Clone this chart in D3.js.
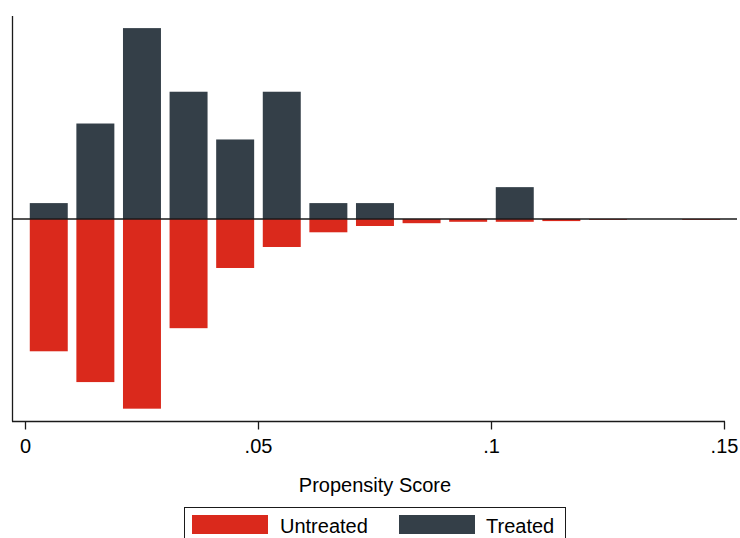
<!DOCTYPE html>
<html>
<head>
<meta charset="utf-8">
<script src="https://cdn.jsdelivr.net/npm/d3@7"></script>
<style>
  html, body { margin: 0; padding: 0; background: #fff; }
  svg { display: block; font-family: "Liberation Sans", Arial, Helvetica, sans-serif; }
</style>
</head>
<body>
<svg id="chart" width="740" height="538"></svg>
<script>
// Bin centers (propensity score)
const binCenters = [0.0051, 0.0151, 0.0251, 0.0351, 0.0451, 0.0551, 0.0651, 0.0751, 0.0851, 0.0951, 0.1051, 0.1151, 0.1251, 0.1351, 0.1451];
// Fraction of treated observations per bin (drawn upward)
const treated = [0.0227, 0.1364, 0.2727, 0.1818, 0.1136, 0.1818, 0.0227, 0.0227, 0, 0, 0.0455, 0, 0, 0, 0];
// Fraction of untreated observations per bin (drawn downward)
const untreated = [0.189, 0.233, 0.271, 0.156, 0.070, 0.040, 0.019, 0.010, 0.006, 0.004, 0.004, 0.003, 0.0012, 0, 0.0012];
const xTicks = [0, 0.05, 0.1, 0.15];
const xTickLabels = ["0", ".05", ".1", ".15"];
const seriesNames = ["Untreated", "Treated"];
const colors = { Untreated: "#da291c", Treated: "#343f48" };
const binWidth = 0.00815;

const svg = d3.select("#chart");
const x = d3.scaleLinear().domain([0, 0.15]).range([25, 724]);
const y = d3.scaleLinear().domain([-0.2886, 0.29]).range([421, 16]);

// Treated bars (up)
svg.append("g").selectAll("rect").data(binCenters).join("rect")
  .attr("x", (d) => x(d - binWidth / 2))
  .attr("width", (d) => x(d + binWidth / 2) - x(d - binWidth / 2))
  .attr("y", (d, i) => y(treated[i]))
  .attr("height", (d, i) => y(0) - y(treated[i]))
  .attr("fill", colors.Treated);

// Untreated bars (down)
svg.append("g").selectAll("rect").data(binCenters).join("rect")
  .attr("x", (d) => x(d - binWidth / 2))
  .attr("width", (d) => x(d + binWidth / 2) - x(d - binWidth / 2))
  .attr("y", y(0))
  .attr("height", (d, i) => y(-untreated[i]) - y(0))
  .attr("fill", colors.Untreated);

// zero line
svg.append("line")
  .attr("x1", 12).attr("x2", 737)
  .attr("y1", y(0)).attr("y2", y(0))
  .attr("stroke", "#1a1a1a").attr("stroke-width", 1.3);

// Left axis line
svg.append("line")
  .attr("x1", 12.5).attr("x2", 12.5)
  .attr("y1", 16).attr("y2", 421.5)
  .attr("stroke", "#1a1a1a").attr("stroke-width", 1.3);

// Bottom axis
const xAxis = d3.axisBottom(x)
  .tickValues(xTicks)
  .tickFormat((d, i) => xTickLabels[i])
  .tickSizeInner(8).tickSizeOuter(0).tickPadding(9);
const gx = svg.append("g").attr("transform", "translate(0,421.5)").call(xAxis);
gx.select(".domain").remove();
gx.append("line").attr("x1", 12).attr("x2", 725).attr("stroke", "#1a1a1a").attr("stroke-width", 1.3);
gx.selectAll(".tick line").attr("stroke", "#1a1a1a").attr("stroke-width", 1.3);
gx.selectAll(".tick text")
  .attr("fill", "#000")
  .style("font-size", "20px")
  .style("font-family", "'Liberation Sans', Arial, sans-serif");

// Axis title
svg.append("text")
  .attr("x", 375).attr("y", 492)
  .attr("text-anchor", "middle")
  .style("font-size", "20px")
  .text("Propensity Score");

// Legend
const lg = svg.append("g");
lg.append("rect")
  .attr("x", 184.5).attr("y", 507.5).attr("width", 381).attr("height", 40)
  .attr("fill", "#fff").attr("stroke", "#1a1a1a").attr("stroke-width", 1);
const legendItems = [
  { name: seriesNames[0], sx: 192, tx: 280 },
  { name: seriesNames[1], sx: 399, tx: 486 }
];
legendItems.forEach((it) => {
  lg.append("rect").attr("x", it.sx).attr("y", 515).attr("width", 76).attr("height", 19)
    .attr("fill", colors[it.name]);
  lg.append("text").attr("x", it.tx).attr("y", 533)
    .style("font-size", "20px").text(it.name);
});
</script>
</body>
</html>
